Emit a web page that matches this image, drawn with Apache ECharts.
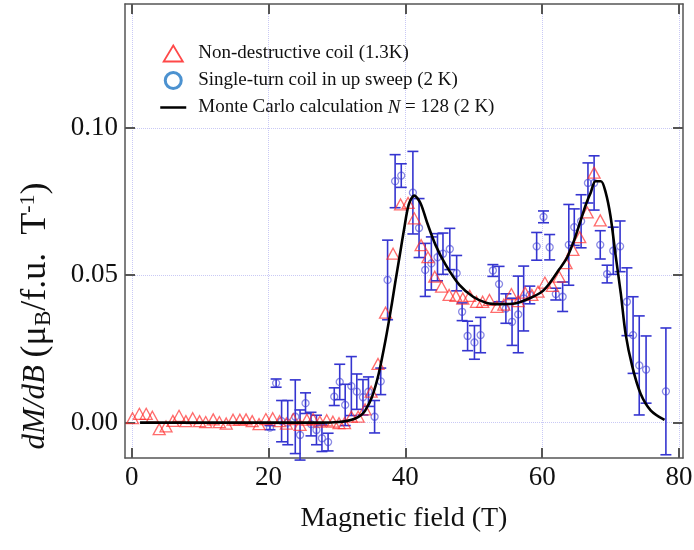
<!DOCTYPE html>
<html>
<head>
<meta charset="utf-8">
<script src="https://cdn.jsdelivr.net/npm/echarts@6/dist/echarts.min.js"></script>
<style>html,body{margin:0;padding:0;background:#fff;}#c{width:694px;height:550px;}</style>
</head>
<body>
<div id="c"></div>
<script>
// Non-destructive coil (1.3K)
const triX = [0.1,1.1,2.1,3.0,4.0,5.0,6.0,6.9,7.9,8.9,9.9,10.8,11.9,12.8,13.8,14.8,15.8,16.7,17.6,18.6,19.6,20.6,21.6,22.6,23.6,24.6,25.6,26.5,27.5,28.5,29.4,30.3,31.1,32.1,33.1,34.1,35.0,36.0,37.1,38.2,39.3,40.4,41.3,42.3,43.3,44.3,45.3,46.4,47.4,48.4,49.4,50.4,51.3,52.3,53.4,54.4,55.5,56.5,57.5,58.5,59.4,60.4,61.5,62.5,63.5,64.5,65.5,66.6,67.6,68.5];
const triY = [0.0015,0.003,0.003,0.002,-0.0022,-0.0013,0.0006,0.0023,0.0005,0.0015,0.0005,0.0002,0.0011,0.0002,-0.0003,0.001,0.001,0.0011,0.0005,-0.0005,0.0012,0.0015,0.0005,-0.0003,0.0012,-0.0008,0.001,0.0012,0.0003,0.0008,0.0003,-0.0002,-0.0002,0.002,0.002,0.0045,0.0105,0.0199,0.0373,0.0573,0.074,0.0745,0.0693,0.0602,0.0561,0.0495,0.0461,0.0433,0.043,0.0421,0.043,0.041,0.041,0.0416,0.0393,0.04,0.0436,0.0412,0.0441,0.0433,0.0444,0.0475,0.0464,0.0495,0.0541,0.0586,0.0629,0.0713,0.0848,0.0686];

// Single-turn coil in up sweep (2 K)
const blueX = [20.2,21.1,21.9,22.8,23.9,24.6,25.4,26.2,27.0,27.8,28.7,29.6,30.4,31.2,32.1,32.9,33.8,34.6,35.5,36.4,37.4,38.5,39.4,41.1,42.0,42.9,43.8,44.7,45.5,46.5,47.5,48.3,49.1,50.1,51.0,52.8,53.7,54.7,55.6,56.5,57.3,58.2,59.2,60.2,61.1,62.0,63.0,63.9,64.7,65.7,66.7,67.6,68.5,69.5,70.4,71.4,72.4,73.3,74.2,75.2,78.1];
const blueY = [-0.0017,0.0134,0.0005,0.0,0.002,-0.0042,0.0066,-0.0005,-0.0025,-0.0053,-0.0066,0.0088,0.0138,0.006,0.0124,0.0105,0.0086,0.0105,0.002,0.014,0.0484,0.0819,0.0838,0.078,0.066,0.0518,0.054,0.0561,0.0573,0.0589,0.0507,0.0376,0.0294,0.0272,0.0297,0.0516,0.047,0.0387,0.0342,0.0367,0.0421,0.0433,0.0598,0.0698,0.0595,0.0436,0.0427,0.0603,0.0663,0.0683,0.0813,0.0813,0.0603,0.0504,0.0583,0.0598,0.041,0.0297,0.0194,0.018,0.0106];
const blueErr = [0.0007,0.0014,0.007,0.0075,0.0125,0.0085,0.0035,0.004,0.005,0.0045,0.003,0.003,0.006,0.007,0.01,0.006,0.006,0.005,0.0055,0.0045,0.0135,0.009,0.004,0.014,0.01,0.009,0.009,0.008,0.007,0.007,0.006,0.003,0.005,0.0057,0.006,0.002,0.006,0.005,0.008,0.013,0.011,0.003,0.0047,0.002,0.0043,0.002,0.005,0.0137,0.0062,0.009,0.0068,0.0092,0.0048,0.003,0.008,0.0086,0.0115,0.013,0.0168,0.0114,0.0215];

// Monte Carlo calculation N = 128 (2 K)
const curveX = [1.2,10,20,28,30.2,31.5,32.6,33.5,34.1,35.1,36.1,37.1,38.0,38.5,39.2,39.8,40.5,41.3,42.2,43.2,44.4,45.9,47.9,49.9,51.8,54.0,56.0,58.0,60.0,61.1,62.5,63.6,64.7,65.6,66.4,67.1,67.8,68.6,69.3,70.0,70.7,71.5,72.2,73.2,74.4,75.9,77.9];
const curveY = [0,0,0,0,0.0002,0.0006,0.0013,0.0025,0.004,0.0086,0.0166,0.028,0.040,0.0473,0.057,0.0654,0.074,0.077,0.0745,0.0677,0.0603,0.0535,0.0467,0.0427,0.0407,0.0402,0.0404,0.042,0.0445,0.0473,0.052,0.0558,0.062,0.0683,0.074,0.078,0.0819,0.0819,0.078,0.070,0.0575,0.0439,0.0302,0.0189,0.0098,0.0041,0.0009];

const xTicks = [0,20,40,60,80];
const yTicks = [0,0.05,0.10];

const names = ['Non-destructive coil (1.3K)','Single-turn coil in up sweep (2 K)','Monte Carlo calculation N = 128 (2 K)'];

const FONT = 'Liberation Serif, Times New Roman, serif';
const chart = echarts.init(document.getElementById('c'), null, {renderer:'canvas'});

const xBase = {
  type:'value', min:-1.0, max:80.6,
  axisLine:{show:true, onZero:false, lineStyle:{color:'#555', width:1.5}},
  axisTick:{show:true, inside:true, length:10, customValues:xTicks, lineStyle:{color:'#555', width:2}},
  splitLine:{show:false}
};
const yBase = {
  type:'value', min:-0.012, max:0.142,
  axisLine:{show:true, onZero:false, lineStyle:{color:'#555', width:1.5}},
  axisTick:{show:true, inside:true, length:10, customValues:yTicks, lineStyle:{color:'#555', width:2}},
  splitLine:{show:false}
};

const option = {
  backgroundColor:'#fff',
  animation:false,
  grid:{left:125, right:11, top:4, bottom:92, containLabel:false, outerBoundsMode:'none'},
  legend:{
    orient:'vertical', left:154, top:39, itemGap:8, itemWidth:26, itemHeight:16, symbolKeepAspect:true,
    data:[
      {name:names[0], icon:'path://M9,0L18,15L0,15Z', itemStyle:{color:'rgba(0,0,0,0)', borderColor:'#ff1a1a', borderWidth:1.8}},
      {name:names[1], icon:'circle', itemStyle:{color:'rgba(0,0,0,0)', borderColor:'#1f77c4', borderWidth:3}},
      {name:names[2], itemStyle:{color:'rgba(0,0,0,0)', borderColor:'rgba(0,0,0,0)', borderWidth:0}, lineStyle:{color:'#000', width:2.5}}
    ],
    formatter:function(n){ return n===names[2] ? 'Monte Carlo calculation {i|N} = 128 (2 K)' : n; },
    textStyle:{fontFamily:FONT, fontSize:19, color:'#111', padding:[0,0,0,7],
      rich:{i:{fontFamily:FONT, fontSize:19, fontStyle:'italic', color:'#111'}}}
  },
  xAxis:[
    Object.assign({}, xBase, {
      position:'bottom',
      axisLabel:{show:true, customValues:xTicks, margin:6, color:'#111', fontFamily:FONT, fontSize:27},
      splitLine:{show:true, lineStyle:{color:'#c9c9f5', type:'dotted', width:1}},
      name:'Magnetic field (T)', nameLocation:'middle', nameGap:47,
      nameTextStyle:{fontFamily:FONT, fontSize:28, color:'#111'}
    }),
    Object.assign({}, xBase, {position:'top', axisLabel:{show:false}})
  ],
  yAxis:[
    Object.assign({}, yBase, {
      position:'left',
      axisLabel:{show:true, customValues:yTicks, margin:7, color:'#111', fontFamily:FONT, fontSize:27,
        formatter:function(v){ return v.toFixed(2); }},
      splitLine:{show:true, lineStyle:{color:'#c9c9f5', type:'dotted', width:1}},
      name:'{i|dM/dB} {p|(μ}{sub|B}{p|/f.u.  T}{sup|-1}{p|)}', nameLocation:'middle', nameGap:70,
      nameTextStyle:{fontFamily:FONT, fontSize:31, color:'#111', padding:[0,170,0,0],
        rich:{
          i:{fontFamily:FONT, fontSize:31, fontStyle:'italic', color:'#111', lineHeight:38, verticalAlign:'middle'},
          p:{fontFamily:FONT, fontSize:36, color:'#111', lineHeight:38, verticalAlign:'middle'},
          sub:{fontFamily:FONT, fontSize:23, color:'#111', lineHeight:38, verticalAlign:'bottom'},
          sup:{fontFamily:FONT, fontSize:22, color:'#111', lineHeight:38, verticalAlign:'top'}
        }}
    }),
    Object.assign({}, yBase, {position:'right', axisLabel:{show:false}})
  ],
  series:[
    {
      type:'custom', name:'errbars', xAxisIndex:0, yAxisIndex:0, z:2, silent:true,
      data: blueX.map((x,i)=>[x, blueY[i], blueErr[i]]),
      renderItem:function(params, api){
        const x = api.value(0), y = api.value(1), e = api.value(2);
        const t = api.coord([x, y+e]), b = api.coord([x, y-e]);
        const hw = 5.5, st = {stroke:'#3535d0', lineWidth:1.6};
        return {type:'group', children:[
          {type:'line', shape:{x1:t[0], y1:t[1], x2:b[0], y2:b[1]}, style:st},
          {type:'line', shape:{x1:t[0]-hw, y1:t[1], x2:t[0]+hw, y2:t[1]}, style:st},
          {type:'line', shape:{x1:b[0]-hw, y1:b[1], x2:b[0]+hw, y2:b[1]}, style:st}
        ]};
      }
    },
    {
      type:'scatter', name:names[1], z:3, symbol:'circle', symbolSize:7,
      data: blueX.map((x,i)=>[x, blueY[i]]),
      itemStyle:{color:'rgba(0,0,0,0)', borderColor:'rgba(60,60,210,0.75)', borderWidth:1.3}
    },
    {
      type:'scatter', name:names[0], z:4, symbol:'triangle', symbolSize:[12,11],
      data: triX.map((x,i)=>[x, triY[i]]),
      itemStyle:{color:'rgba(0,0,0,0)', borderColor:'rgba(255,40,40,0.85)', borderWidth:1.3}
    },
    {
      type:'line', name:names[2], z:5, showSymbol:false, symbol:'none', smooth:0.3,
      data: curveX.map((x,i)=>[x, curveY[i]]),
      lineStyle:{color:'#000', width:2.6},
      itemStyle:{color:'#000'}
    }
  ]
};
chart.setOption(option);
</script>
</body>
</html>
